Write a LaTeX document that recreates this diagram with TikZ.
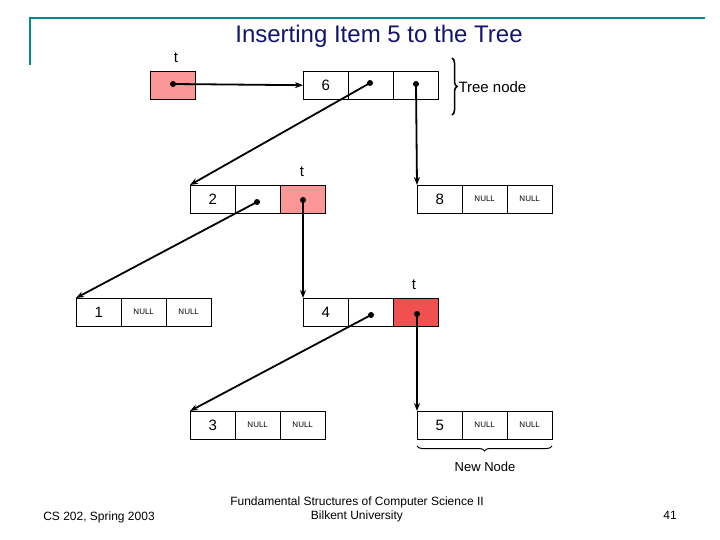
\documentclass[tikz,border=0pt]{standalone}
\usepackage{fontspec}
\setmainfont{Liberation Sans}
\usetikzlibrary{decorations.pathreplacing,arrows.meta}
\definecolor{teal2}{RGB}{0,140,140}
\definecolor{ttl}{RGB}{20,20,110}
\definecolor{pink}{RGB}{250,150,150}
\definecolor{redc}{RGB}{240,80,80}
\begin{document}
\begin{tikzpicture}[x=1pt,y=-1pt,
 cell/.style={draw,minimum width=45pt,minimum height=28pt,inner sep=0pt,anchor=north west,font=\fontsize{15}{15}\selectfont},
 nul/.style={cell,font=\fontsize{8}{8}\selectfont},
 ptr/.style={-{Stealth[length=8pt,width=6pt]},line width=1.8pt},
 dotc/.style={circle,fill,inner sep=0pt,minimum size=6pt},
 lbl/.style={font=\fontsize{15}{15}\selectfont}]
\useasboundingbox (0,0) rectangle (720,540);
\draw[teal2,line width=2pt] (30,65) -- (30,18) coordinate (tl) -- (705,18);
\node[ttl,font=\fontsize{24}{24}\selectfont] (title) at (379,36) {Inserting Item 5 to the Tree};
% pointer t
\node[cell,fill=pink] (t0) at (150,71) {};
\node[lbl] (t0l) at (176,58) {t};
% node 6
\node[cell] (a1) at (303,71) {6};
\node[cell] (a2) at (348,71) {};
\node[cell] (a3) at (393,71) {};
\draw[decorate,decoration={brace,amplitude=5pt},line width=1.5pt] (452,58) -- (452,115) coordinate (br);
\node[lbl,anchor=west] (tn) at (455,87) {Tree node};
% node 2
\node[cell] (b1) at (190,185) {2};
\node[cell] (b2) at (235,185) {};
\node[cell,fill=pink] (b3) at (280,185) {};
\node[lbl] (bt) at (302,172) {t};
% node 8
\node[cell] (c1) at (417,185) {8};
\node[nul] (c2) at (462,185) {NULL};
\node[nul] (c3) at (507,185) {NULL};
% node 1
\node[cell] (d1) at (76,298) {1};
\node[nul] (d2) at (121,298) {NULL};
\node[nul] (d3) at (166,298) {NULL};
% node 4
\node[cell] (e1) at (303,298) {4};
\node[cell] (e2) at (348,298) {};
\node[cell,fill=redc] (e3) at (393,298) {};
\node[lbl] (et) at (414,285) {t};
% node 3
\node[cell] (f1) at (190,411) {3};
\node[nul] (f2) at (235,411) {NULL};
\node[nul] (f3) at (280,411) {NULL};
% node 5
\node[cell] (g1) at (417,411) {5};
\node[nul] (g2) at (462,411) {NULL};
\node[nul] (g3) at (507,411) {NULL};
\draw[decorate,decoration={brace,amplitude=5pt,mirror},line width=1pt] (417,446) -- (552,446);
\node[font=\fontsize{13}{13}\selectfont] (nn) at (485,467) {New Node};
% dots
\node[dotc] (p0) at (173,84) {};
\node[dotc] (p1) at (370,83) {};
\node[dotc] (p2) at (416,84) {};
\node[dotc] (p3) at (257,202) {};
\node[dotc] (p4) at (303,200) {};
\node[dotc] (p5) at (371,315) {};
\node[dotc] (p6) at (417,314) {};
\draw[ptr] (p0.center) -- (a1.west);
\draw[ptr] (p1.center) -- (b1.north west);
\draw[ptr] (p2.center) -- (c1.north west);
\draw[ptr] (p3.center) -- (d1.north west);
\draw[ptr] (p4.center) -- (e1.north west);
\draw[ptr] (p5.center) -- (f1.north west);
\draw[ptr] (p6.center) -- (g1.north west);
% footer
\node[font=\fontsize{12}{12}\selectfont] (f1t) at (99,517) {CS 202, Spring 2003};
\node[font=\fontsize{12}{14}\selectfont,align=center] (f2t) at (357,509) {Fundamental Structures of Computer Science II\\Bilkent University};
\node[font=\fontsize{12}{12}\selectfont] (f3t) at (670,515) {41};
\end{tikzpicture}
\end{document}
